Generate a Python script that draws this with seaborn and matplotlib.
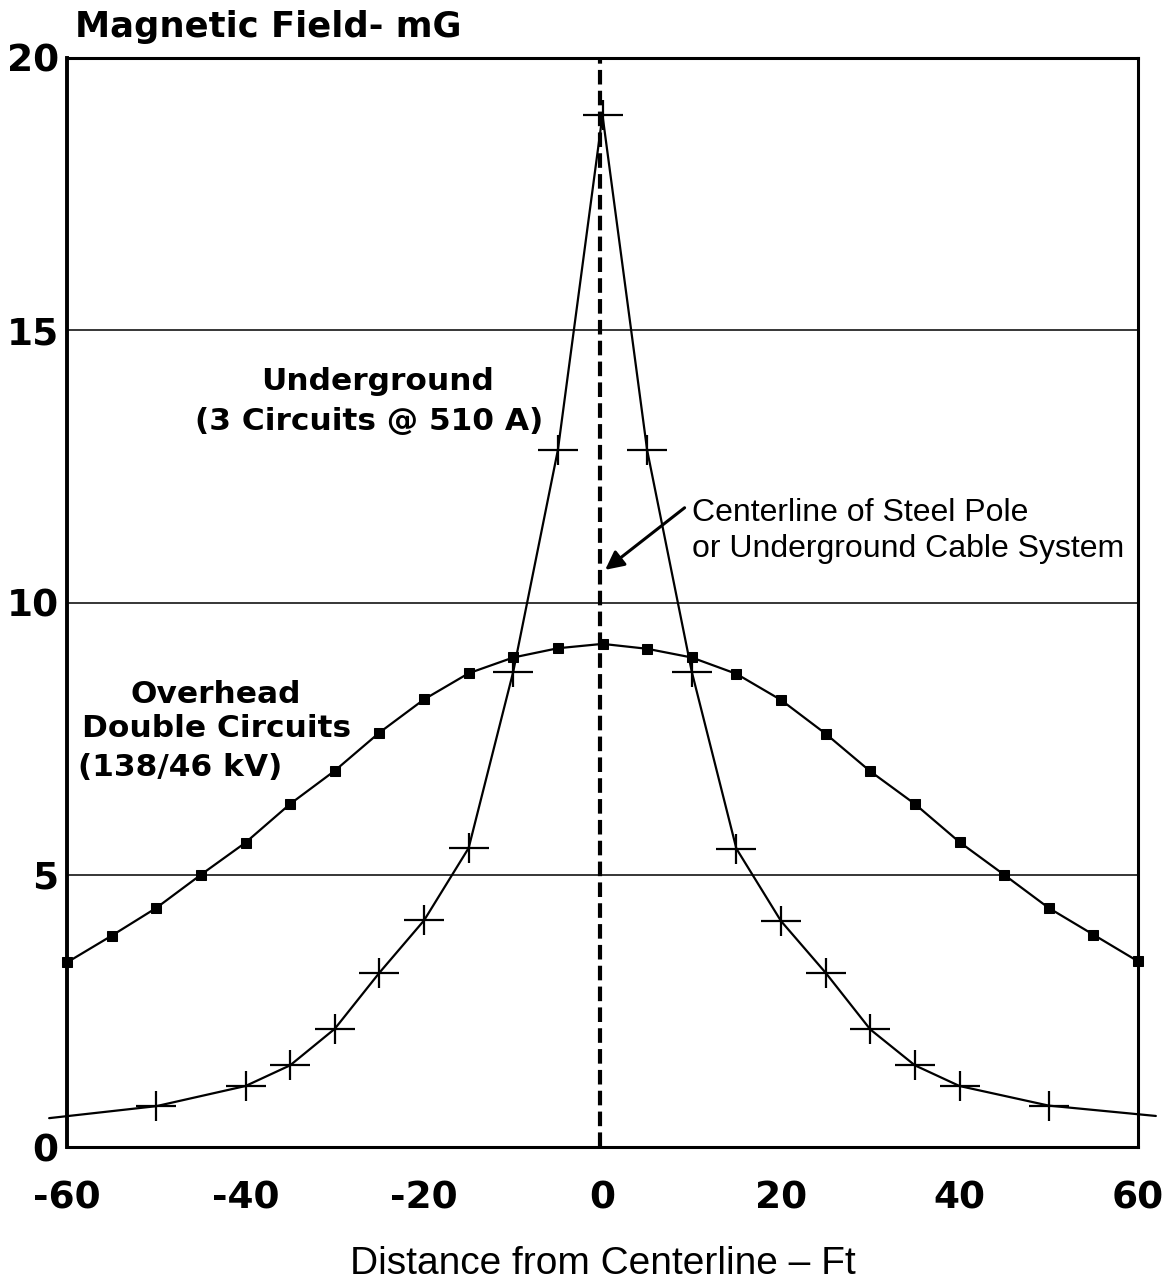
import matplotlib
matplotlib.use("Agg")
import matplotlib.pyplot as plt
from matplotlib.path import Path
import seaborn as sns
import pandas as pd

# ---- data ----
overhead_x = [-60, -55, -50, -45, -40, -35, -30, -25, -20, -15, -10, -5, 0,
              5, 10, 15, 20, 25, 30, 35, 40, 45, 50, 55, 60]
overhead_y = [3.39, 3.88, 4.39, 5.0, 5.59, 6.30, 6.91, 7.61, 8.22, 8.70, 8.99, 9.16, 9.24,
              9.15, 8.99, 8.69, 8.21, 7.59, 6.90, 6.30, 5.60, 5.0, 4.39, 3.90, 3.41]

under_x = [-62, -50, -40, -35, -30, -25, -20, -15, -10, -5, 0,
           5, 10, 15, 20, 25, 30, 35, 40, 50, 62]
under_y = [0.53, 0.75, 1.12, 1.50, 2.17, 3.20, 4.16, 5.49, 8.73, 12.8, 18.95,
           12.8, 8.73, 5.48, 4.15, 3.20, 2.16, 1.50, 1.12, 0.76, 0.57]

x_ticks = [-60, -40, -20, 0, 20, 40, 60]
y_ticks = [0, 5, 10, 15, 20]
grid_levels = [5, 10, 15]

title_text = "Magnetic Field- mG"
xlabel_text = "Distance from Centerline \u2013 Ft"

# ---- figure ----
sns.set_style("white")
plt.rcParams['font.family'] = ['DejaVu Sans']
plt.rcParams['text.color'] = 'black'
plt.rcParams['axes.labelcolor'] = 'black'
plt.rcParams['xtick.color'] = 'black'
plt.rcParams['ytick.color'] = 'black'

fig = plt.figure(figsize=(11.63, 12.84), dpi=100)
ax = fig.add_axes([67 / 1163, 1 - 1147 / 1284, (1138 - 67) / 1163, (1147 - 58) / 1284])

df_o = pd.DataFrame({"x": overhead_x, "y": overhead_y})
df_u = pd.DataFrame({"x": under_x, "y": under_y})

# wide plus marker (horizontal arm longer than vertical)
plus_path = Path([(-1, 0), (1, 0), (0, -0.75), (0, 0.75)],
                 [Path.MOVETO, Path.LINETO, Path.MOVETO, Path.LINETO])

for g in grid_levels:
    ax.axhline(g, color="black", lw=1.1, zorder=1)

ax.axvline(-0.3, color="black", lw=3, linestyle=(0, (3.5, 1.5)), zorder=2)

sns.lineplot(data=df_o, x="x", y="y", ax=ax, color="black", lw=1.6,
             marker="s", markersize=6.5, markeredgecolor="black",
             markerfacecolor="black", clip_on=False, zorder=3, sort=False)
sns.lineplot(data=df_u, x="x", y="y", ax=ax, color="black", lw=1.6,
             marker=plus_path, markersize=29, markeredgewidth=1.6,
             markeredgecolor="black", markerfacecolor="none",
             markevery=list(range(1, len(under_x) - 1)),
             clip_on=False, zorder=4, sort=False)

ax.set_xlim(-60, 60)
ax.set_ylim(0, 20)
ax.set_xticks(x_ticks)
ax.set_yticks(y_ticks)
ax.set_xticklabels([str(v) for v in x_ticks], fontsize=27, fontweight="bold")
ax.set_yticklabels([str(v) for v in y_ticks], fontsize=27, fontweight="bold")
ax.tick_params(axis="x", direction="out", length=9, width=1.6, pad=15, colors="black")
ax.tick_params(axis="y", length=0, pad=6, colors="black")
ax.set_xlabel(xlabel_text, fontsize=28, family="Liberation Sans", labelpad=21)
ax.set_ylabel("")

for side, w in [("left", 2.8), ("right", 2.2), ("top", 2.2), ("bottom", 2.2)]:
    ax.spines[side].set_visible(True)
    ax.spines[side].set_linewidth(w)
    ax.spines[side].set_color("black")

fig.text(75 / 1163, 1 - 27 / 1284, title_text, fontsize=25.5, fontweight="bold",
         ha="left", va="center")

bold_kw = dict(fontsize=22.5, fontweight="bold", va="center")
ax.text(-25.2, 14.05, "Underground", ha="center", **bold_kw)
ax.text(-26.2, 13.32, "(3 Circuits @ 510 A)", ha="center", **bold_kw)
ax.text(-52.9, 8.31, "Overhead", ha="left", **bold_kw)
ax.text(-58.3, 7.69, "Double Circuits", ha="left", **bold_kw)
ax.text(-58.8, 6.97, "(138/46 kV)", ha="left", **bold_kw)

reg_kw = dict(fontsize=23, family="Liberation Sans", va="center", ha="left")
ax.text(10.0, 11.65, "Centerline of Steel Pole", **reg_kw)
ax.text(10.0, 10.99, "or Underground Cable System", **reg_kw)
ax.annotate("", xy=(0.3, 10.6), xytext=(9.2, 11.74),
            arrowprops=dict(arrowstyle="-|>", color="black", lw=2.2,
                            mutation_scale=28, shrinkA=0, shrinkB=0))

fig.savefig("out.png", dpi=100)
